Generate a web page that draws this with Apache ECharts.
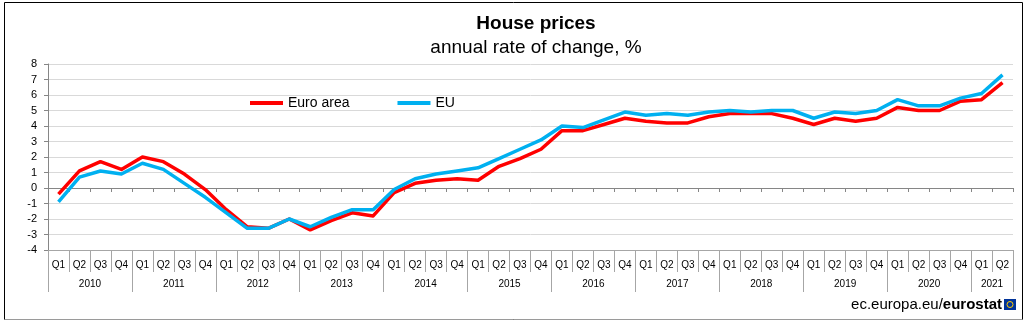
<!DOCTYPE html>
<html>
<head>
<meta charset="utf-8">
<script src="https://cdn.jsdelivr.net/npm/echarts@6/dist/echarts.min.js"></script>
<style>
html,body{margin:0;padding:0;background:#fff;}
#chart{width:1028px;height:325px;}
</style>
</head>
<body>
<div id="chart"></div>
<script>
// ---- data ----
var yearLabels = ['2010','2011','2012','2013','2014','2015','2016','2017','2018','2019','2020','2021'];
var quartersPerYear = [4,4,4,4,4,4,4,4,4,4,4,2];
var quarterLabels = [
  'Q1','Q2','Q3','Q4','Q1','Q2','Q3','Q4','Q1','Q2','Q3','Q4',
  'Q1','Q2','Q3','Q4','Q1','Q2','Q3','Q4','Q1','Q2','Q3','Q4',
  'Q1','Q2','Q3','Q4','Q1','Q2','Q3','Q4','Q1','Q2','Q3','Q4',
  'Q1','Q2','Q3','Q4','Q1','Q2','Q3','Q4','Q1','Q2'
];
var euroArea = [
  -0.4, 1.1, 1.7, 1.2,
   2.0, 1.7, 0.9, -0.1,
  -1.4, -2.5, -2.6, -2.0,
  -2.7, -2.1, -1.6, -1.8,
  -0.3, 0.3, 0.5, 0.6,
   0.5, 1.4, 1.9, 2.5,
   3.7, 3.7, 4.1, 4.5,
   4.3, 4.2, 4.2, 4.6,
   4.8, 4.8, 4.8, 4.5,
   4.1, 4.5, 4.3, 4.5,
   5.2, 5.0, 5.0, 5.6,
   5.7, 6.8
];
var eu = [
  -0.9, 0.7, 1.1, 0.9,
   1.6, 1.2, 0.3, -0.6,
  -1.6, -2.6, -2.6, -2.0,
  -2.5, -1.9, -1.4, -1.4,
  -0.1, 0.6, 0.9, 1.1,
   1.3, 1.9, 2.5, 3.1,
   4.0, 3.9, 4.4, 4.9,
   4.7, 4.8, 4.7, 4.9,
   5.0, 4.9, 5.0, 5.0,
   4.5, 4.9, 4.8, 5.0,
   5.7, 5.3, 5.3, 5.8,
   6.1, 7.3
];
var seriesNames = ['Euro area', 'EU'];
var titleText = 'House prices';
var subtitleText = 'annual rate of change, %';

// ---- derived helpers ----
var categoryKeys = quarterLabels.map(function (q, i) { return 'c' + i; });
var yearBounds = [0];
quartersPerYear.forEach(function (n) { yearBounds.push(yearBounds[yearBounds.length - 1] + n); });
var yearCenters = quartersPerYear.map(function (n, i) { return yearBounds[i] + n / 2; });
function yearAt(v) {
  for (var i = 0; i < yearCenters.length; i++) { if (Math.abs(yearCenters[i] - v) < 0.01) return yearLabels[i]; }
  return '';
}

var FONT = '"Liberation Sans", Arial, sans-serif';
var chart = echarts.init(document.getElementById('chart'));
chart.setOption({
  animation: false,
  textStyle: { fontFamily: FONT },
  title: [
    { text: titleText, left: 531, top: 9, textAlign: 'center',
      textStyle: { fontFamily: FONT, fontSize: 19, fontWeight: 'bold', color: '#000' } },
    { text: subtitleText, left: 531, top: 33, textAlign: 'center',
      textStyle: { fontFamily: FONT, fontSize: 19, fontWeight: 'normal', color: '#000' } }
  ],
  legend: {
    data: seriesNames, left: 250, top: 96, padding: 0,
    icon: 'rect', itemWidth: 33, itemHeight: 4, itemGap: 48,
    textStyle: { fontFamily: FONT, fontSize: 14, color: '#000' }
  },
  grid: { left: 48, right: 15, top: 64, bottom: 75, containLabel: false },
  xAxis: [
    { type: 'category', data: categoryKeys, position: 'bottom',
      axisLine: { onZero: true, lineStyle: { color: '#868686' } },
      axisTick: { show: true, length: 4, interval: 0, lineStyle: { color: '#868686' } },
      axisLabel: { show: false }, splitLine: { show: false } },
    { type: 'category', data: quarterLabels, position: 'bottom',
      axisLine: { onZero: false, lineStyle: { color: '#A6A6A6' } },
      axisTick: { show: true, length: 22, interval: 0, lineStyle: { color: '#A6A6A6' } },
      axisLabel: { interval: 0, fontSize: 10, margin: 10, color: '#000', fontFamily: FONT },
      splitLine: { show: false } },
    { type: 'value', min: 0, max: 46, position: 'bottom',
      axisLine: { show: false, onZero: false },
      axisTick: { show: true, length: 42, customValues: yearBounds, lineStyle: { color: '#A6A6A6' } },
      axisLabel: { customValues: yearCenters, formatter: function (v) { return yearAt(v); },
                   fontSize: 10, margin: 29, color: '#000', fontFamily: FONT },
      splitLine: { show: false } }
  ],
  yAxis: {
    type: 'value', min: -4, max: 8, interval: 1,
    axisLine: { show: true, onZero: false, lineStyle: { color: '#868686' } },
    axisTick: { show: true, length: 4, lineStyle: { color: '#868686' } },
    axisLabel: { fontSize: 11, margin: 11, color: '#000', fontFamily: FONT },
    splitLine: { lineStyle: { color: '#D9D9D9', width: 1 } }
  },
  series: [
    { name: seriesNames[0], type: 'line', data: euroArea, xAxisIndex: 0, yAxisIndex: 0,
      symbol: 'none', lineStyle: { width: 3.5, color: '#FF0000', join: 'round' }, itemStyle: { color: '#FF0000' } },
    { name: seriesNames[1], type: 'line', data: eu, xAxisIndex: 0, yAxisIndex: 0,
      symbol: 'none', lineStyle: { width: 3.5, color: '#00B0F0', join: 'round' }, itemStyle: { color: '#00B0F0' } }
  ],
  graphic: [
    { type: 'rect', shape: { x: 4.5, y: 2.5, width: 1018, height: 317 },
      style: { fill: 'none', stroke: '#000', lineWidth: 1 }, silent: true },
    { type: 'line', shape: { x1: 4.5, y1: 319.5, x2: 1022.5, y2: 319.5 },
      style: { stroke: '#9a9a9a', lineWidth: 1 }, silent: true },
    { type: 'text', x: 1002, y: 305, silent: true,
      style: { text: '{a|ec.europa.eu/}{b|eurostat}', align: 'right', verticalAlign: 'middle',
        rich: { a: { fontFamily: FONT, fontSize: 15, color: '#808080' },
                b: { fontFamily: FONT, fontSize: 15, fontWeight: 'bold', color: '#404040' } } } },
    { type: 'rect', shape: { x: 1004, y: 299, width: 12, height: 11 },
      style: { fill: '#003399' }, silent: true },
    { type: 'circle', shape: { cx: 1010, cy: 304.5, r: 3 },
      style: { fill: 'none', stroke: '#FFCC00', lineWidth: 1 }, silent: true }
  ]
});
</script>
</body>
</html>
